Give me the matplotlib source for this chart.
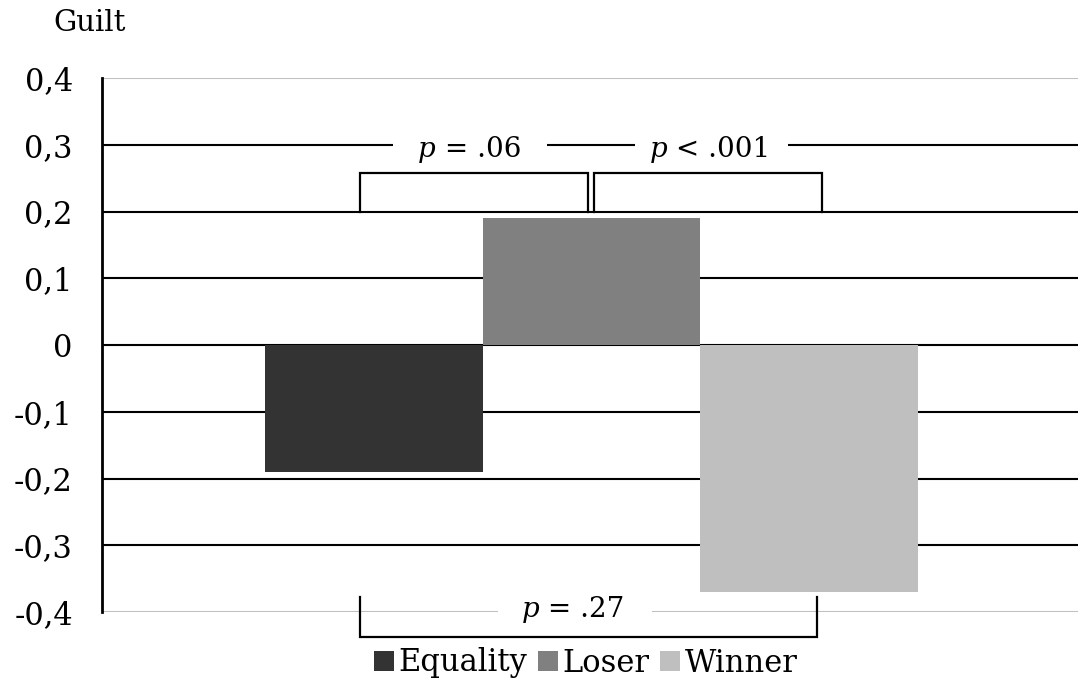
import matplotlib
matplotlib.use("Agg")
import matplotlib.pyplot as plt
from matplotlib.patches import Patch
from matplotlib.offsetbox import TextArea, HPacker, AnnotationBbox

categories = ["Equality", "Loser", "Winner"]
values = [-0.19, 0.19, -0.37]
colors = ["#333333", "#808080", "#bfbfbf"]
yticks = [-0.4, -0.3, -0.2, -0.1, 0, 0.1, 0.2, 0.3, 0.4]
ytick_labels = ["-0,4", "-0,3", "-0,2", "-0,1", "0", "0,1", "0,2", "0,3", "0,4"]
p_labels = [("p", " = .06"), ("p", " < .001"), ("p", " = .27")]

FONT = "DejaVu Serif"
FS = 22

fig = plt.figure(figsize=(10.78, 6.84), dpi=100)
ax = fig.add_axes([102/1078, 1 - 612/684, 1 - 102/1078, (612 - 78)/684])

x = list(range(len(categories)))
ax.bar(x, values, width=1.0, color=colors, zorder=3)

ax.set_xlim(-1.25, 3.237)
ax.set_ylim(-0.4, 0.4)
ax.set_yticks(yticks)
ax.set_yticklabels(ytick_labels, fontfamily=FONT, fontsize=FS)
ax.tick_params(axis="y", length=0, pad=21)
ax.set_xticks([])

for t in yticks:
    if abs(t) > 0.35:
        ax.axhline(t, color="#c0c0c0", lw=1.5, zorder=1)
    else:
        ax.axhline(t, color="black", lw=1.5, zorder=1)

for s in ["top", "right", "bottom"]:
    ax.spines[s].set_visible(False)
ax.spines["left"].set_linewidth(2)
ax.spines["left"].set_zorder(4)


def bracket(x0, x1, y0, y1):
    ax.plot([x0, x0, x1, x1], [y0, y1, y1, y0], color="black", lw=1.6,
            zorder=5, clip_on=False, solid_joinstyle="miter")


bracket(-0.064, 0.984, 0.2, 0.258)
bracket(1.011, 2.06, 0.2, 0.258)
bracket(-0.064, 2.037, -0.3775, -0.4375)


def ptext(xc, y, lab, gap_l, gap_r):
    ax.fill_between([gap_l, gap_r], y - 0.02, y + 0.02, color="white", zorder=2, lw=0)
    a = TextArea(lab[0], textprops=dict(fontfamily=FONT, fontsize=20, style="italic"))
    b = TextArea(lab[1], textprops=dict(fontfamily=FONT, fontsize=20))
    box = HPacker(children=[a, b], align="baseline", pad=0, sep=0)
    ab = AnnotationBbox(box, (xc, y), xycoords="data", frameon=False,
                        box_alignment=(0.5, 0.5), zorder=6, annotation_clip=False)
    ax.add_artist(ab)


ptext(0.44, 0.293, p_labels[0], (393-374)/217.5, (547-374)/217.5)
ptext(1.545, 0.293, p_labels[1], (635-374)/217.5, (788-374)/217.5)
ptext(0.915, -0.397, p_labels[2], (498-374)/217.5, (652-374)/217.5)

fig.text(53/1078, 1 - 23/684, "Guilt", fontfamily=FONT, fontsize=21,
         ha="left", va="center")

handles = [Patch(facecolor=c, edgecolor="none") for c in colors]
leg = fig.legend(handles, categories, loc="center", bbox_to_anchor=(586/1078, 1 - 663/684),
                 ncol=3, frameon=False, prop=dict(family=FONT, size=FS),
                 handlelength=0.65, handleheight=0.65, handletextpad=0.15,
                 columnspacing=0.35, borderpad=0)

fig.savefig("out.png", dpi=100)
